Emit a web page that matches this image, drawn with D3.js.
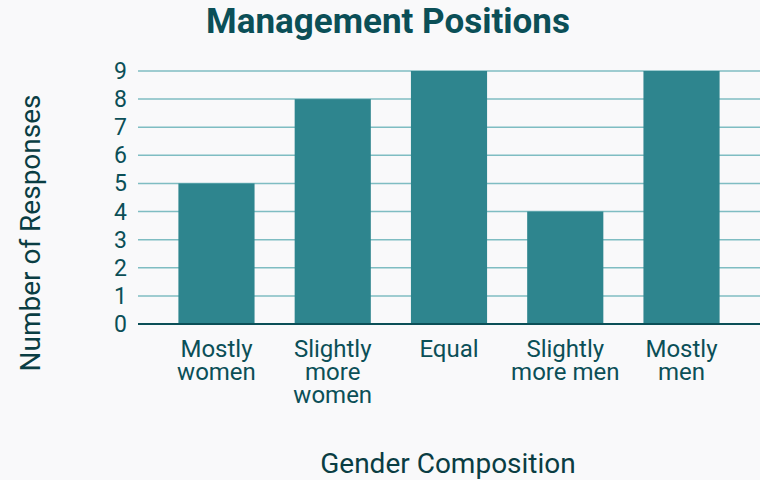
<!DOCTYPE html>
<html>
<head>
<meta charset="utf-8">
<script src="https://cdn.jsdelivr.net/npm/d3@7"></script>
<style>
  body { margin: 0; background: #f9f9fa; }
  svg { display: block; font-family: Roboto, sans-serif; }
</style>
</head>
<body>
<svg width="760" height="480"></svg>
<script>
// chart data
const categories = ["Mostly women", "Slightly more women", "Equal", "Slightly more men", "Mostly men"];
const catLines = [["Mostly", "women"], ["Slightly", "more", "women"], ["Equal"], ["Slightly", "more men"], ["Mostly", "men"]];
const responses = [5, 8, 9, 4, 9];
const yTicks = [0, 1, 2, 3, 4, 5, 6, 7, 8, 9];

const svg = d3.select("svg");
const margin = {left: 138, right: 0, top: 71, bottom: 156};
const width = 760, height = 480;

const x = d3.scaleBand()
  .domain(categories)
  .range([margin.left, width - margin.right])
  .paddingInner(0.345)
  .paddingOuter(0.3475);

const y = d3.scaleLinear()
  .domain([0, 9])
  .range([height - margin.bottom, margin.top]);

// gridlines
svg.append("g")
  .selectAll("line")
  .data(yTicks.filter(d => d > 0))
  .enter().append("line")
    .attr("x1", margin.left)
    .attr("x2", width)
    .attr("y1", y)
    .attr("y2", y)
    .attr("stroke", "#7fbdc2")
    .attr("stroke-width", 1.5);

// bars
svg.append("g")
  .selectAll("rect")
  .data(responses)
  .enter().append("rect")
    .attr("x", (d, i) => x(categories[i]))
    .attr("width", x.bandwidth())
    .attr("y", d => y(d))
    .attr("height", d => y(0) - y(d))
    .attr("fill", "#2e858e");

// zero line
svg.append("line")
  .attr("x1", margin.left)
  .attr("x2", width)
  .attr("y1", y(0))
  .attr("y2", y(0))
  .attr("stroke", "#0b4f57")
  .attr("stroke-width", 2);

// y tick labels
svg.append("g")
  .selectAll("text")
  .data(yTicks)
  .enter().append("text")
    .attr("x", 127)
    .attr("y", y)
    .attr("dy", "0.35em")
    .attr("text-anchor", "end")
    .attr("font-size", 23)
    .attr("fill", "#0b4f57")
    .text(d => d);

// category labels
const catG = svg.append("g")
  .selectAll("text")
  .data(categories)
  .enter().append("text")
    .attr("text-anchor", "middle")
    .attr("font-size", 24)
    .attr("fill", "#0b4f57")
    .attr("x", d => x(d) + x.bandwidth() / 2)
    .attr("y", 357);

catG.selectAll("tspan")
  .data((d, i) => catLines[i])
  .enter().append("tspan")
    .attr("x", function() { return this.parentNode.getAttribute("x"); })
    .attr("dy", (d, i) => i === 0 ? 0 : 23)
    .text(d => d);

// title
svg.append("text")
  .attr("x", 388)
  .attr("y", 33)
  .attr("text-anchor", "middle")
  .attr("font-size", 35)
  .attr("font-weight", "bold")
  .attr("fill", "#0b4f57")
  .text("Management Positions");

// axis titles
svg.append("text")
  .attr("x", 448)
  .attr("y", 473)
  .attr("text-anchor", "middle")
  .attr("font-size", 28)
  .attr("fill", "#0a3d43")
  .text("Gender Composition");

svg.append("text")
  .attr("transform", "translate(40,233) rotate(-90)")
  .attr("text-anchor", "middle")
  .attr("font-size", 28)
  .attr("fill", "#0a3d43")
  .text("Number of Responses");
</script>
</body>
</html>
